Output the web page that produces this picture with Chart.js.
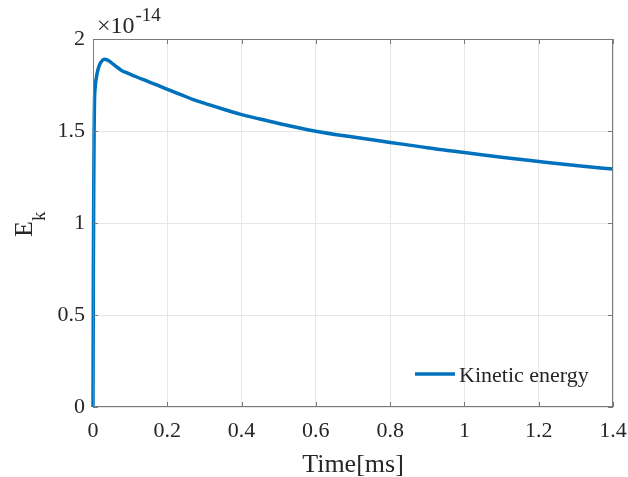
<!DOCTYPE html>
<html>
<head>
<meta charset="utf-8">
<script src="https://cdn.jsdelivr.net/npm/chart.js@4.4.1/dist/chart.umd.min.js"></script>
<style>
  html, body { margin: 0; padding: 0; background: #fff; }
</style>
</head>
<body>
<canvas id="ekChart" width="628" height="477"></canvas>
<script>
// kinetic energy history, values in units of 1e-14
var timeMs = [0, 0.0005, 0.001, 0.002, 0.003, 0.004, 0.006, 0.009, 0.013, 0.018,
  0.024, 0.031, 0.038, 0.045, 0.055, 0.066, 0.078, 0.09, 0.11, 0.134,
  0.17, 0.206, 0.24, 0.268, 0.314, 0.36, 0.395, 0.449, 0.5, 0.6,
  0.7, 0.8, 0.88, 0.934, 1.0, 1.1, 1.2, 1.3, 1.4];
var kineticEnergy = [0, 0.35, 0.75, 1.2, 1.5, 1.66, 1.74, 1.79, 1.83, 1.862,
  1.881, 1.89, 1.887, 1.878, 1.862, 1.845, 1.828, 1.817, 1.8, 1.78,
  1.752, 1.722, 1.695, 1.672, 1.642, 1.613, 1.592, 1.565, 1.541, 1.499,
  1.467, 1.438, 1.415, 1.399, 1.383, 1.357, 1.334, 1.312, 1.293];
var seriesName = "Kinetic energy";
var exponentBase = "\u00d710";
var exponentPower = "-14";
var xTitle = "Time[ms]";
var yTitleMain = "E";
var yTitleSub = "k";

var serif = "'Liberation Serif', 'Times New Roman', serif";
var axisColor = "#7a7a7a";
var textColor = "#262626";
var lineColor = "#0072BD";

// box, inward ticks, titles and legend drawn on top of the chart
var matlabAxes = {
  id: "matlabAxes",
  afterDatasetsDraw: function (chart) {
    var ctx = chart.ctx;
    var a = chart.chartArea;
    var xs = chart.scales.x, ys = chart.scales.y;
    var tick = 5;
    ctx.save();
    ctx.strokeStyle = axisColor;
    ctx.lineWidth = 1;
    ctx.strokeRect(Math.round(a.left) + 0.5, Math.round(a.top) + 0.5,
      Math.round(a.right - a.left) - 1, Math.round(a.bottom - a.top) - 1);
    ctx.beginPath();
    xs.ticks.forEach(function (t) {
      var px = Math.round(xs.getPixelForValue(t.value)) + 0.5;
      ctx.moveTo(px, a.bottom); ctx.lineTo(px, a.bottom - tick);
      ctx.moveTo(px, a.top); ctx.lineTo(px, a.top + tick);
    });
    ys.ticks.forEach(function (t) {
      var py = Math.round(ys.getPixelForValue(t.value)) + 0.5;
      ctx.moveTo(a.left, py); ctx.lineTo(a.left + tick, py);
      ctx.moveTo(a.right, py); ctx.lineTo(a.right - tick, py);
    });
    ctx.stroke();

    ctx.fillStyle = textColor;
    ctx.textBaseline = "alphabetic";

    // exponent above the y axis
    ctx.textAlign = "left";
    ctx.font = "24px " + serif;
    ctx.fillText(exponentBase, a.left + 4, 33);
    var w = ctx.measureText(exponentBase).width;
    ctx.font = "19px " + serif;
    ctx.fillText(exponentPower, a.left + 5 + w, 21);

    // x axis title
    ctx.textAlign = "center";
    ctx.font = "26px " + serif;
    ctx.fillText(xTitle, (a.left + a.right) / 2, 472);

    // y axis title with subscript
    ctx.save();
    ctx.translate(32, 237);
    ctx.rotate(-Math.PI / 2);
    ctx.textAlign = "left";
    ctx.font = "26px " + serif;
    ctx.fillText(yTitleMain, 0, 0);
    var ew = ctx.measureText(yTitleMain).width;
    ctx.font = "19px " + serif;
    ctx.fillText(yTitleSub, ew, 13);
    ctx.restore();

    // legend, no frame
    var ds = chart.data.datasets[0];
    ctx.strokeStyle = ds.borderColor;
    ctx.lineWidth = ds.borderWidth;
    ctx.beginPath();
    ctx.moveTo(415, 374); ctx.lineTo(455, 374);
    ctx.stroke();
    ctx.textAlign = "left";
    ctx.font = "22px " + serif;
    ctx.fillText(ds.label, 459, 382);
    ctx.restore();
  }
};

new Chart(document.getElementById("ekChart"), {
  type: "line",
  data: {
    datasets: [{
      label: seriesName,
      data: timeMs.map(function (t, i) { return { x: t, y: kineticEnergy[i] }; }),
      borderColor: lineColor,
      backgroundColor: lineColor,
      borderWidth: 3.5,
      pointRadius: 0,
      cubicInterpolationMode: "monotone",
      clip: false
    }]
  },
  options: {
    responsive: false,
    animation: false,
    devicePixelRatio: 1,
    layout: { padding: { left: 0, top: 39, right: 15, bottom: 0 } },
    plugins: { legend: { display: false }, tooltip: { enabled: false } },
    scales: {
      x: {
        type: "linear",
        min: 0,
        max: 1.4,
        afterFit: function (s) {
          s.height = 70;
          s.paddingLeft = 0;
          s.paddingRight = 0;
        },
        border: { display: false },
        grid: { color: "#e6e6e6", drawTicks: false },
        ticks: {
          stepSize: 0.2,
          padding: 11,
          color: textColor,
          font: { family: serif, size: 22 },
          maxRotation: 0,
          callback: function (v) { return String(parseFloat(v.toFixed(1))); }
        }
      },
      y: {
        min: 0,
        max: 2,
        afterFit: function (s) {
          s.width = 93;
          s.paddingTop = 0;
          s.paddingBottom = 0;
        },
        border: { display: false },
        grid: { color: "#e6e6e6", drawTicks: false },
        ticks: {
          stepSize: 0.5,
          padding: 8,
          color: textColor,
          font: { family: serif, size: 22 },
          callback: function (v) { return String(parseFloat(v.toFixed(1))); }
        }
      }
    }
  },
  plugins: [matlabAxes]
});
</script>
</body>
</html>
